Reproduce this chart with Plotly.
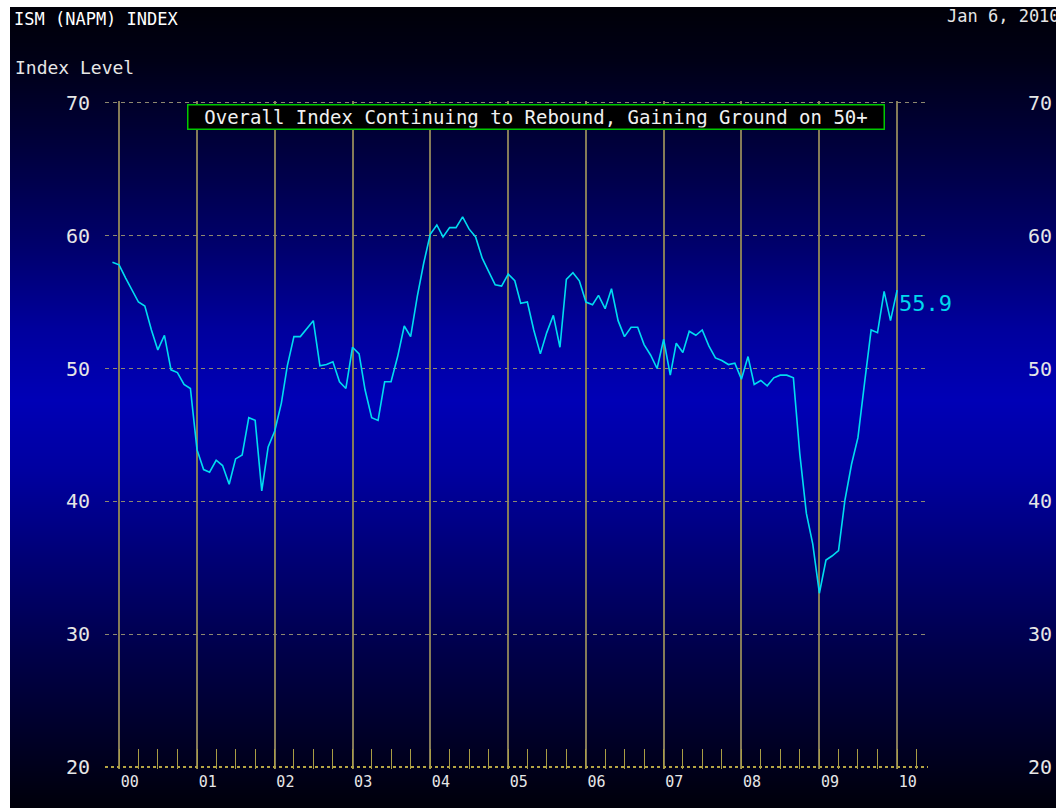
import base64
import struct
import zlib

import pandas as pd
import plotly.graph_objects as go

# ---------------- data ----------------
months = pd.date_range("1999-11-01", "2009-12-01", freq="MS")
ism_values = [
    58.0, 57.8,
    56.8, 55.9, 55.0, 54.7, 52.9, 51.4, 52.5, 49.9, 49.7, 48.8, 48.5, 43.9,
    42.4, 42.2, 43.1, 42.7, 41.3, 43.2, 43.5, 46.3, 46.1, 40.8, 44.1, 45.3,
    47.4, 50.2, 52.4, 52.4, 53.0, 53.6, 50.2, 50.3, 50.5, 49.0, 48.5, 51.6,
    51.1, 48.4, 46.3, 46.1, 49.0, 49.0, 50.9, 53.2, 52.4, 55.4, 57.9, 60.1,
    60.8, 59.9, 60.6, 60.6, 61.4, 60.5, 59.9, 58.3, 57.3, 56.3, 56.2, 57.1,
    56.6, 54.9, 55.0, 52.9, 51.1, 52.7, 54.0, 51.6, 56.7, 57.2, 56.6, 55.0,
    54.8, 55.5, 54.5, 56.0, 53.6, 52.4, 53.1, 53.1, 51.8, 51.0, 50.0, 52.2,
    49.5, 51.9, 51.2, 52.8, 52.5, 52.9, 51.7, 50.8, 50.6, 50.3, 50.4, 49.2,
    50.9, 48.8, 49.1, 48.7, 49.3, 49.5, 49.5, 49.3, 43.6, 39.1, 36.8, 33.1,
    35.6, 35.9, 36.3, 40.1, 42.8, 44.8, 48.9, 52.9, 52.7, 55.8, 53.6, 55.9,
]
year_labels = ["00", "01", "02", "03", "04", "05", "06", "07", "08", "09", "10"]
axis_ticks = [20, 30, 40, 50, 60, 70]
grid_ticks = [30, 40, 50, 60, 70]
base_tick = [20]
chart_title = "ISM (NAPM) INDEX"
axis_title = "Index Level"
as_of = "Jan 6, 2010"
callout_text = "Overall Index Continuing to Rebound, Gaining Ground on 50+"

# each monthly reading is plotted at the end of its month
plot_x = months + pd.offsets.MonthBegin(1)
years = [2000 + int(s) for s in year_labels]

# ---------------- layout geometry ----------------
W, H = 1056, 808
ML, MR, MT, MB = 105, 128, 101, 39
PW, PH = W - ML - MR, H - MT - MB
X_RANGE = ["1999-10-27", "2010-05-26"]
Y_RANGE = [19.88, 70.12]


def px_x(px):
    return (px - ML) / PW


def px_y(py):
    return (H - MB - py) / PH


# ---------------- background gradient (narrow PNG) ----------------
stops = [(7, 8), (60, 22), (150, 62), (250, 110), (330, 158), (400, 182),
         (470, 160), (560, 116), (650, 74), (740, 38), (808, 10)]


def blue_at(py):
    for (a, ca), (b, cb) in zip(stops[:-1], stops[1:]):
        if a <= py <= b:
            t = (py - a) / (b - a)
            return int(round(ca + (cb - ca) * t))
    return stops[-1][1]


rows = [(0, 0, blue_at(py)) for py in range(7, 808)]


def make_png(pixels):
    raw = b"".join(b"\x00" + bytes(c) + bytes(c) for c in pixels)

    def chunk(t, d):
        return struct.pack(">I", len(d)) + t + d + struct.pack(">I", zlib.crc32(t + d) & 0xFFFFFFFF)

    ihdr = struct.pack(">IIBBBBB", 2, len(pixels), 8, 2, 0, 0, 0)
    return (b"\x89PNG\r\n\x1a\n" + chunk(b"IHDR", ihdr)
            + chunk(b"IDAT", zlib.compress(raw)) + chunk(b"IEND", b""))


bg_uri = "data:image/png;base64," + base64.b64encode(make_png(rows)).decode()

MONO = "DejaVu Sans Mono"
LABEL_COLOR = "#e6e6e6"

fig = go.Figure()
fig.add_trace(go.Scatter(
    x=plot_x, y=ism_values, mode="lines",
    line=dict(color="#00dcf0", width=1.6),
    showlegend=False, hoverinfo="skip",
))
# helper traces so the overlay axes are drawn
fig.add_trace(go.Scatter(x=[None], y=[None], xaxis="x2", yaxis="y2", showlegend=False, hoverinfo="skip"))
fig.add_trace(go.Scatter(x=[None], y=[None], xaxis="x", yaxis="y3", showlegend=False, hoverinfo="skip"))
fig.add_trace(go.Scatter(x=[None], y=[None], xaxis="x", yaxis="y4", showlegend=False, hoverinfo="skip"))

fig.update_layout(
    width=W, height=H, autosize=False,
    margin=dict(l=ML, r=MR, t=MT, b=MB, pad=0, autoexpand=False),
    paper_bgcolor="white",
    plot_bgcolor="rgba(0,0,0,0)",
    showlegend=False,
    images=[dict(
        source=bg_uri, xref="paper", yref="paper",
        x=px_x(10), y=px_y(7), sizex=(W - 10) / PW, sizey=(H - 7) / PH,
        xanchor="left", yanchor="top", sizing="stretch", layer="below",
    )],
    xaxis=dict(
        type="date", range=X_RANGE, automargin=False,
        tickvals=[f"{y}-01-01" for y in years],
        showticklabels=False, ticks="",
        showgrid=True, gridcolor="#857b58", gridwidth=1.5,
        zeroline=False, showline=False,
        minor=dict(dtick="M3", tick0="2000-01-01", ticks="inside", ticklen=20,
                   tickcolor="#a89c44", tickwidth=1, showgrid=False),
    ),
    xaxis2=dict(
        type="date", range=X_RANGE, overlaying="x", side="bottom", anchor="y",
        automargin=False,
        tickvals=[f"{y}-02-20" for y in years], ticktext=year_labels,
        showgrid=False, ticks="", zeroline=False, showline=False,
        tickfont=dict(family=MONO, size=15, color=LABEL_COLOR),
        ticklabelstandoff=2,
    ),
    yaxis=dict(
        range=Y_RANGE, tickvals=axis_ticks, showgrid=False, zeroline=False,
        showline=False, ticks="", side="left", automargin=False,
        tickfont=dict(family=MONO, size=20, color=LABEL_COLOR),
        ticklabelstandoff=14,
    ),
    yaxis2=dict(
        range=Y_RANGE, tickvals=axis_ticks, overlaying="y", side="right", anchor="x2",
        showgrid=False, zeroline=False, showline=False, ticks="", automargin=False,
        tickfont=dict(family=MONO, size=20, color=LABEL_COLOR),
        ticklabelstandoff=99,
    ),
    yaxis3=dict(
        range=Y_RANGE, tickvals=grid_ticks, overlaying="y", showticklabels=False,
        showgrid=True, griddash="4px,4px", gridcolor="#8e8870", gridwidth=1,
        zeroline=False, showline=False, ticks="", automargin=False,
    ),
    yaxis4=dict(
        range=Y_RANGE, tickvals=base_tick, overlaying="y", showticklabels=False,
        showgrid=True, griddash="dot", gridcolor="#b4a444", gridwidth=1.5,
        zeroline=False, showline=False, ticks="", automargin=False,
    ),
    annotations=[
        dict(text=chart_title, xref="paper", yref="paper", x=px_x(12), y=px_y(19),
             xanchor="left", yanchor="middle", showarrow=False,
             font=dict(family=MONO, size=17, color="white")),
        dict(text=axis_title, xref="paper", yref="paper", x=px_x(13), y=px_y(67),
             xanchor="left", yanchor="middle", showarrow=False,
             font=dict(family=MONO, size=18, color=LABEL_COLOR)),
        dict(text=as_of, xref="paper", yref="paper", x=px_x(945), y=px_y(16),
             xanchor="left", yanchor="middle", showarrow=False,
             font=dict(family=MONO, size=17, color=LABEL_COLOR)),
        dict(text=callout_text, xref="paper", yref="paper", x=px_x(535.5), y=px_y(117),
             xanchor="center", yanchor="middle", showarrow=False,
             width=693, height=21, borderpad=1,
             bordercolor="#00c800", borderwidth=1.5, bgcolor="black",
             font=dict(family=MONO, size=19, color="#f0f0f0")),
        dict(text=f"{ism_values[-1]:.1f}", xref="x", yref="y",
             x=plot_x[-1], y=ism_values[-1], xanchor="left", yanchor="middle",
             yshift=-13, showarrow=False,
             font=dict(family=MONO, size=22, color="#00d8ec")),
    ],
)

fig.write_html(
    "out.html",
    config={"displayModeBar": False},
    post_script="document.body.style.margin='0px';document.body.style.overflow='hidden';",
)
